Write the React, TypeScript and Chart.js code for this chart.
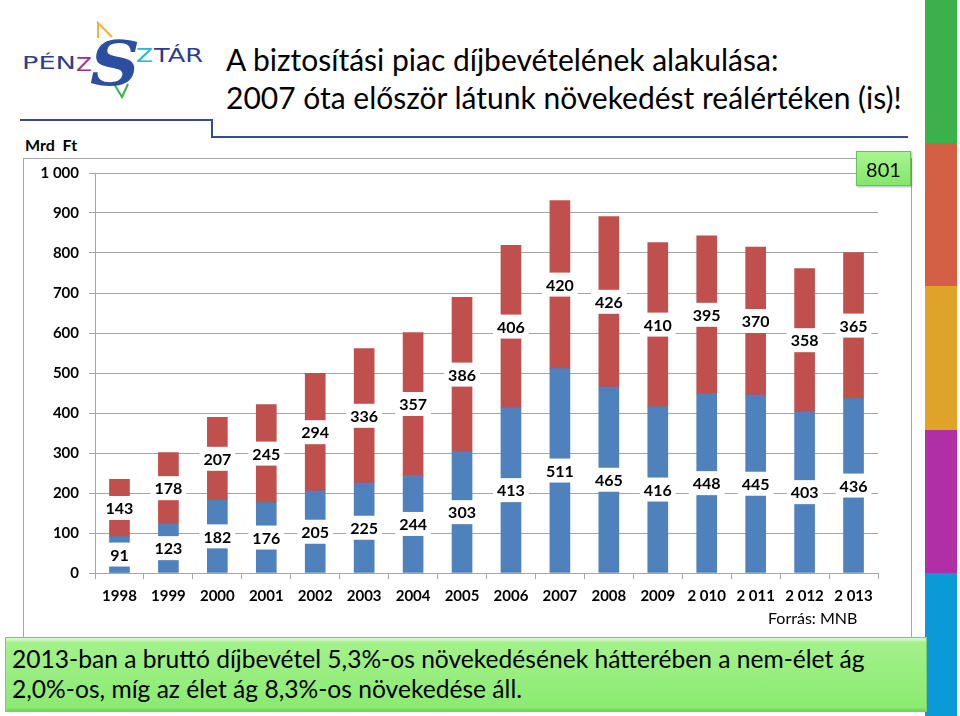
import React, { useEffect, useRef } from "react";
import { Chart, registerables } from "chart.js";

Chart.register(...registerables);

const categories = ["1998", "1999", "2000", "2001", "2002", "2003", "2004", "2005", "2006", "2007", "2008", "2009", "2 010", "2 011", "2 012", "2 013"];
const lifeValues = [91, 123, 182, 176, 205, 225, 244, 303, 413, 511, 465, 416, 448, 445, 403, 436];
const nonLifeValues = [143, 178, 207, 245, 294, 336, 357, 386, 406, 420, 426, 410, 395, 370, 358, 365];
const yTicks = [0, 100, 200, 300, 400, 500, 600, 700, 800, 900, 1000];

const fmt = (v: number) => String(v).replace(/\B(?=(\d{3})+(?!\d))/g, " ");

const labelPlugin = {
  id: "segLabels",
  afterDatasetsDraw(chart: any) {
    const ctx = chart.ctx;
    ctx.save();
    ctx.font = "bold 16px Lato";
    ctx.textAlign = "center";
    ctx.textBaseline = "middle";
    chart.data.datasets.forEach((ds: any, di: number) => {
      const meta = chart.getDatasetMeta(di);
      meta.data.forEach((el: any, i: number) => {
        const p = el.getProps(["x", "y", "base"], true);
        const cy = (p.y + p.base) / 2;
        const txt = String(ds.data[i]);
        const w = ctx.measureText(txt).width + 8;
        const h = 24;
        ctx.fillStyle = "#ffffff";
        ctx.fillRect(p.x - w / 2, cy - h / 2, w, h);
        ctx.fillStyle = "#000000";
        ctx.fillText(txt, p.x, cy + 1);
      });
    });
    ctx.restore();
  },
};

function Logo() {
  return (
    <svg width="220" height="110" viewBox="0 0 220 110" style={{ position: "absolute", left: 0, top: 0 }}>
      <polyline points="98,38 98,23 112,37" fill="none" stroke="#f2b632" strokeWidth="2" />
      <polyline points="113,82 122,97 128,84" fill="none" stroke="#3cb44b" strokeWidth="2" />
      <text x="22" y="69" fontFamily="DejaVu Sans" fontSize="17" fill="#2d3e8c" textLength="54" lengthAdjust="spacingAndGlyphs">PÉN</text>
      <text x="76" y="71" fontFamily="DejaVu Sans" fontSize="19" fill="#a0308f" textLength="16" lengthAdjust="spacingAndGlyphs">Z</text>
      <text x="90" y="85" fontFamily="DejaVu Serif" fontStyle="italic" fontWeight="bold" fontSize="62" fill="#2c4ea0" textLength="50" lengthAdjust="spacingAndGlyphs">S</text>
      <text x="136" y="62" fontFamily="DejaVu Sans" fontSize="19" fill="#2fb3d6" textLength="17" lengthAdjust="spacingAndGlyphs">Z</text>
      <text x="154" y="62" fontFamily="DejaVu Sans" fontSize="19" fill="#2d3e8c" textLength="49" lengthAdjust="spacingAndGlyphs">TÁR</text>
    </svg>
  );
}

export default function App() {
  const ref = useRef<HTMLCanvasElement>(null);
  useEffect(() => {
    if (!ref.current) return;
    const chart = new Chart(ref.current, {
      type: "bar",
      data: {
        labels: categories,
        datasets: [
          { label: "Élet", data: lifeValues, backgroundColor: "#4f81bd", barThickness: 20 },
          { label: "Nem-élet", data: nonLifeValues, backgroundColor: "#c0504d", barThickness: 20 },
        ],
      },
      options: {
        animation: false,
        responsive: false,
        layout: { padding: { top: 23, right: 22, left: 0, bottom: 0 } },
        plugins: { legend: { display: false }, tooltip: { enabled: false }, title: { display: false } },
        scales: {
          x: {
            stacked: true,
            grid: { offset: true, drawOnChartArea: false, tickLength: 6, color: "#a6a6a6" },
            border: { display: true, color: "#a6a6a6" },
            ticks: { font: { family: "Lato", weight: "bold", size: 15 }, color: "#000", padding: 8, maxRotation: 0, autoSkip: false },
            afterFit: (s: any) => { s.height = 57; },
          },
          y: {
            stacked: true,
            min: 0,
            max: 1000,
            afterBuildTicks: (s: any) => { s.ticks = yTicks.map((v) => ({ value: v })); },
            grid: { color: "#a6a6a6", tickLength: 6 },
            border: { display: true, color: "#a6a6a6" },
            ticks: { font: { family: "Lato", weight: "bold", size: 15 }, color: "#000", padding: 10, callback: (v: any) => fmt(Number(v)) },
            afterFit: (s: any) => { s.width = 95; },
          },
        },
      },
      plugins: [labelPlugin],
    });
    return () => chart.destroy();
  }, []);

  const strip = ["#3bb04b", "#d35f45", "#e0a32a", "#b02fa7", "#0a9ad8"];

  return (
    <div style={{ position: "fixed", left: 0, top: 0, width: 960, height: 716, background: "#fff", overflow: "hidden", fontFamily: "Liberation Sans" }}>
      <Logo />
      <div style={{ position: "absolute", left: 226, top: 40, fontFamily: "Lato", fontSize: 30, lineHeight: "38px", color: "#000", whiteSpace: "nowrap" }}>
        A biztosítási piac díjbevételének alakulása:<br />2007 óta először látunk növekedést reálértéken (is)!
      </div>
      <div style={{ position: "absolute", left: 20, top: 119, width: 192, height: 0, borderTop: "2px solid #3a4a8c" }} />
      <div style={{ position: "absolute", left: 211, top: 119, width: 0, height: 18, borderLeft: "2px solid #3a4a8c" }} />
      <div style={{ position: "absolute", left: 211, top: 136, width: 697, height: 0, borderTop: "2px solid #3a4a8c" }} />
      {strip.map((c, i) => (
        <div key={i} style={{ position: "absolute", left: 925, top: i * 143.2, width: 32, height: 143.2, background: c }} />
      ))}
      <div style={{ position: "absolute", left: 23, top: 158, width: 887, height: 482, border: "1px solid #a6a6a6" }} />
      <div style={{ position: "absolute", left: 25, top: 135, fontFamily: "Lato", fontWeight: "bold", fontSize: 16, whiteSpace: "pre" }}>Mrd  Ft</div>
      <canvas ref={ref} width={900} height={480} style={{ position: "absolute", left: 0, top: 150, width: 900, height: 480 }} />
      <div style={{ position: "absolute", left: 856, top: 151, width: 55, height: 35, boxSizing: "border-box", background: "linear-gradient(#a8f590, #84e66a)", border: "1px solid #6cc058", boxShadow: "1px 1px 2px rgba(0,0,0,0.3)", fontFamily: "Lato", fontSize: 20, display: "flex", alignItems: "center", justifyContent: "center" }}>801</div>
      <div style={{ position: "absolute", left: 768, top: 608, fontFamily: "Lato", fontSize: 16 }}>Forrás: MNB</div>
      <div style={{ position: "absolute", left: 5, top: 637, width: 922, height: 75, boxSizing: "border-box", background: "linear-gradient(#a4f28c, #8aea70)", border: "1px solid #7ccd66", boxShadow: "inset 0 3px 2px rgba(255,255,255,0.5), inset 0 -2px 2px rgba(0,80,0,0.15)", fontFamily: "Lato", fontSize: 24.6, lineHeight: "30px", padding: "6px 0 0 6px", color: "#000", whiteSpace: "nowrap" }}>
        2013-ban a bruttó díjbevétel 5,3%-os növekedésének hátterében a nem-élet ág<br />2,0%-os, míg az élet ág 8,3%-os növekedése áll.
      </div>
    </div>
  );
}
